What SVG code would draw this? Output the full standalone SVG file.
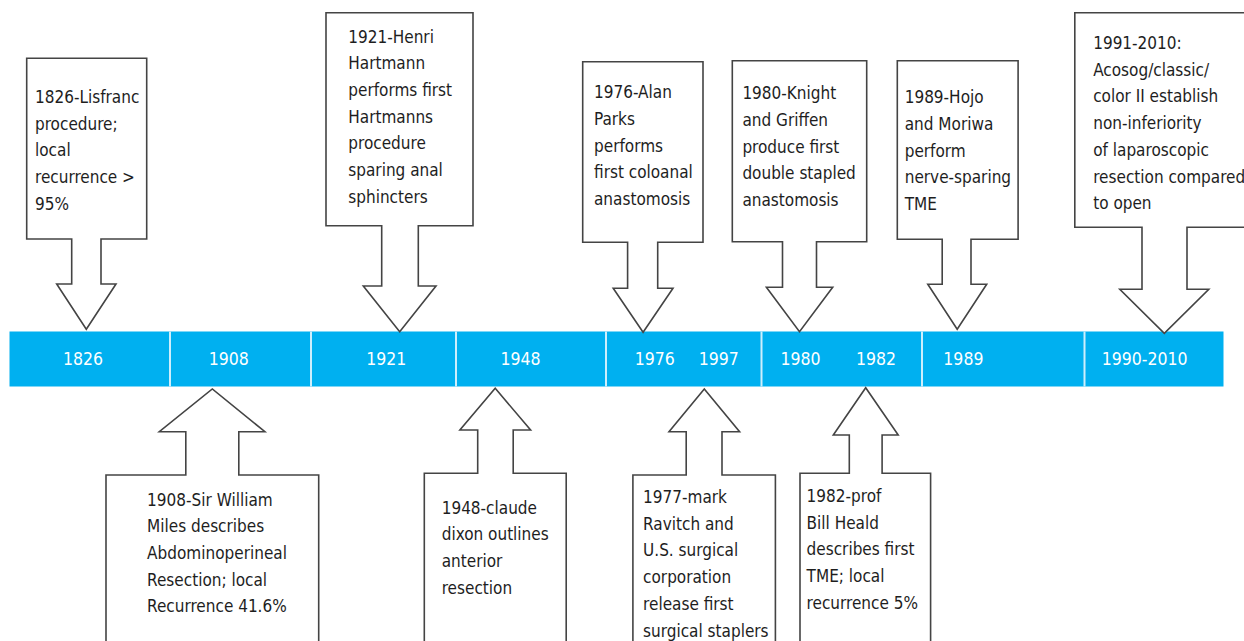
<svg xmlns="http://www.w3.org/2000/svg" width="1244" height="641" viewBox="0 0 1244 641">
<style>
.co{fill:#fff;stroke:#444;stroke-width:1.6;stroke-linejoin:miter}
.t{font-family:"DejaVu Sans Condensed","DejaVu Sans",sans-serif;font-stretch:condensed;font-size:17px;fill:#1e1e1e}
.y{font-family:"DejaVu Sans Condensed","DejaVu Sans",sans-serif;font-stretch:condensed;font-size:17.5px;fill:#fff;text-anchor:middle}
.bar{fill:#00b0f0}
.div{stroke:#cdeefc;stroke-width:2}
</style>
<rect width="1244" height="641" fill="#fff"/>
<g id="timeline">
<rect class="bar" x="9.5" y="331.5" width="1214" height="55"/>
<g class="div">
<line x1="170" y1="331.5" x2="170" y2="386.5"/>
<line x1="311" y1="331.5" x2="311" y2="386.5"/>
<line x1="456" y1="331.5" x2="456" y2="386.5"/>
<line x1="606" y1="331.5" x2="606" y2="386.5"/>
<line x1="761.5" y1="331.5" x2="761.5" y2="386.5"/>
<line x1="922" y1="331.5" x2="922" y2="386.5"/>
<line x1="1084.5" y1="331.5" x2="1084.5" y2="386.5"/>
</g>
<text class="y" x="83" y="365">1826</text>
<text class="y" x="228.7" y="365">1908</text>
<text class="y" x="386.2" y="365">1921</text>
<text class="y" x="520.6" y="365">1948</text>
<text class="y" x="654.8" y="365">1976</text>
<text class="y" x="718.7" y="365">1997</text>
<text class="y" x="800.6" y="365">1980</text>
<text class="y" x="876" y="365">1982</text>
<text class="y" x="963.4" y="365">1989</text>
<text class="y" x="1144.6" y="365">1990-2010</text>
</g>
<g id="connectors"></g>
<g id="n1826">
<path class="co" d="M26.7,58.3 H146.7 V239 H101 V284 H116 L86.3,329.3 L56.7,284 H71.7 V239 H26.7 Z"/>
<text class="t" x="35" y="103"><tspan x="35">1826-Lisfranc</tspan><tspan x="35" dy="26.7">procedure;</tspan><tspan x="35" dy="26.7">local</tspan><tspan x="35" dy="26.7">recurrence &gt;</tspan><tspan x="35" dy="26.7">95%</tspan></text>
</g>
<g id="n1921">
<path class="co" d="M326,12.7 H473 V225.7 H418.3 V286 H436 L399.7,331.7 L363.3,286 H381.7 V225.7 H326 Z"/>
<text class="t" x="348.3" y="42.5"><tspan x="348.3">1921-Henri</tspan><tspan x="348.3" dy="26.7">Hartmann</tspan><tspan x="348.3" dy="26.7">performs first</tspan><tspan x="348.3" dy="26.7">Hartmanns</tspan><tspan x="348.3" dy="26.7">procedure</tspan><tspan x="348.3" dy="26.7">sparing anal</tspan><tspan x="348.3" dy="26.7">sphincters</tspan></text>
</g>
<g id="n1976">
<path class="co" d="M582.7,61.7 H703 V242.3 H657.7 V288.3 H673 L643.1,332.3 L613.2,288.3 H627.6 V242.3 H582.7 Z"/>
<text class="t" x="594" y="98.2"><tspan x="594">1976-Alan</tspan><tspan x="594" dy="26.7">Parks</tspan><tspan x="594" dy="26.7">performs</tspan><tspan x="594" dy="26.7">first coloanal</tspan><tspan x="594" dy="26.7">anastomosis</tspan></text>
</g>
<g id="n1980">
<path class="co" d="M732.3,60.7 H866.7 V241.7 H816.5 V287.3 H832.7 L799.5,331.7 L766.4,287.3 H782.5 V241.7 H732.3 Z"/>
<text class="t" x="742.4" y="99.2"><tspan x="742.4">1980-Knight</tspan><tspan x="742.4" dy="26.7">and Griffen</tspan><tspan x="742.4" dy="26.7">produce first</tspan><tspan x="742.4" dy="26.7">double stapled</tspan><tspan x="742.4" dy="26.7">anastomosis</tspan></text>
</g>
<g id="n1989">
<path class="co" d="M897.3,60.7 H1018.1 V239.3 H971 V284.3 H986.7 L957.2,329.3 L927.8,284.3 H942.2 V239.3 H897.3 Z"/>
<text class="t" x="904.7" y="103.2"><tspan x="904.7">1989-Hojo</tspan><tspan x="904.7" dy="26.7">and Moriwa</tspan><tspan x="904.7" dy="26.7">perform</tspan><tspan x="904.7" dy="26.7">nerve-sparing</tspan><tspan x="904.7" dy="26.7">TME</tspan></text>
</g>
<g id="n1991">
<path class="co" d="M1074.8,12.7 H1260 V227.3 H1187 V289.3 H1208.8 L1164.3,333.3 L1119.8,289.3 H1142 V227.3 H1074.8 Z"/>
<text class="t" x="1093.2" y="49"><tspan x="1093.2">1991-2010:</tspan><tspan x="1093.2" dy="26.7">Acosog/classic/</tspan><tspan x="1093.2" dy="26.7">color II establish</tspan><tspan x="1093.2" dy="26.7">non-inferiority</tspan><tspan x="1093.2" dy="26.7">of laparoscopic</tspan><tspan x="1093.2" dy="26.7">resection compared</tspan><tspan x="1093.2" dy="26.7">to open</tspan></text>
</g>
<g id="n1908">
<path class="co" d="M106,660 V475 H185.8 V431.7 H159.3 L212.3,389 L264.9,431.7 H238.8 V475 H318.7 V660"/>
<text class="t" x="147.1" y="505.5"><tspan x="147.1">1908-Sir William</tspan><tspan x="147.1" dy="26.7">Miles describes</tspan><tspan x="147.1" dy="26.7">Abdominoperineal</tspan><tspan x="147.1" dy="26.7">Resection; local</tspan><tspan x="147.1" dy="26.7">Recurrence 41.6%</tspan></text>
</g>
<g id="n1948">
<path class="co" d="M424.3,660 V473.3 H477.7 V430 H459.9 L495.2,388.3 L530.6,430 H513.2 V473.3 H566.2 V660"/>
<text class="t" x="441.7" y="513.5"><tspan x="441.7">1948-claude</tspan><tspan x="441.7" dy="26.7">dixon outlines</tspan><tspan x="441.7" dy="26.7">anterior</tspan><tspan x="441.7" dy="26.7">resection</tspan></text>
</g>
<g id="n1977">
<path class="co" d="M632.9,660 V475 H686.2 V431.7 H669 L704.3,389 L739.6,431.7 H722 V475 H775.4 V660"/>
<text class="t" x="643.1" y="503"><tspan x="643.1">1977-mark</tspan><tspan x="643.1" dy="26.7">Ravitch and</tspan><tspan x="643.1" dy="26.7">U.S. surgical</tspan><tspan x="643.1" dy="26.7">corporation</tspan><tspan x="643.1" dy="26.7">release first</tspan><tspan x="643.1" dy="26.7">surgical staplers</tspan></text>
</g>
<g id="n1982">
<path class="co" d="M800,660 V473.3 H849.3 V435 H833.3 L865.7,387.7 L898.2,435 H882.1 V473.3 H930.6 V660"/>
<text class="t" x="806.6" y="502"><tspan x="806.6">1982-prof</tspan><tspan x="806.6" dy="26.7">Bill Heald</tspan><tspan x="806.6" dy="26.7">describes first</tspan><tspan x="806.6" dy="26.7">TME; local</tspan><tspan x="806.6" dy="26.7">recurrence 5%</tspan></text>
</g>
</svg>
